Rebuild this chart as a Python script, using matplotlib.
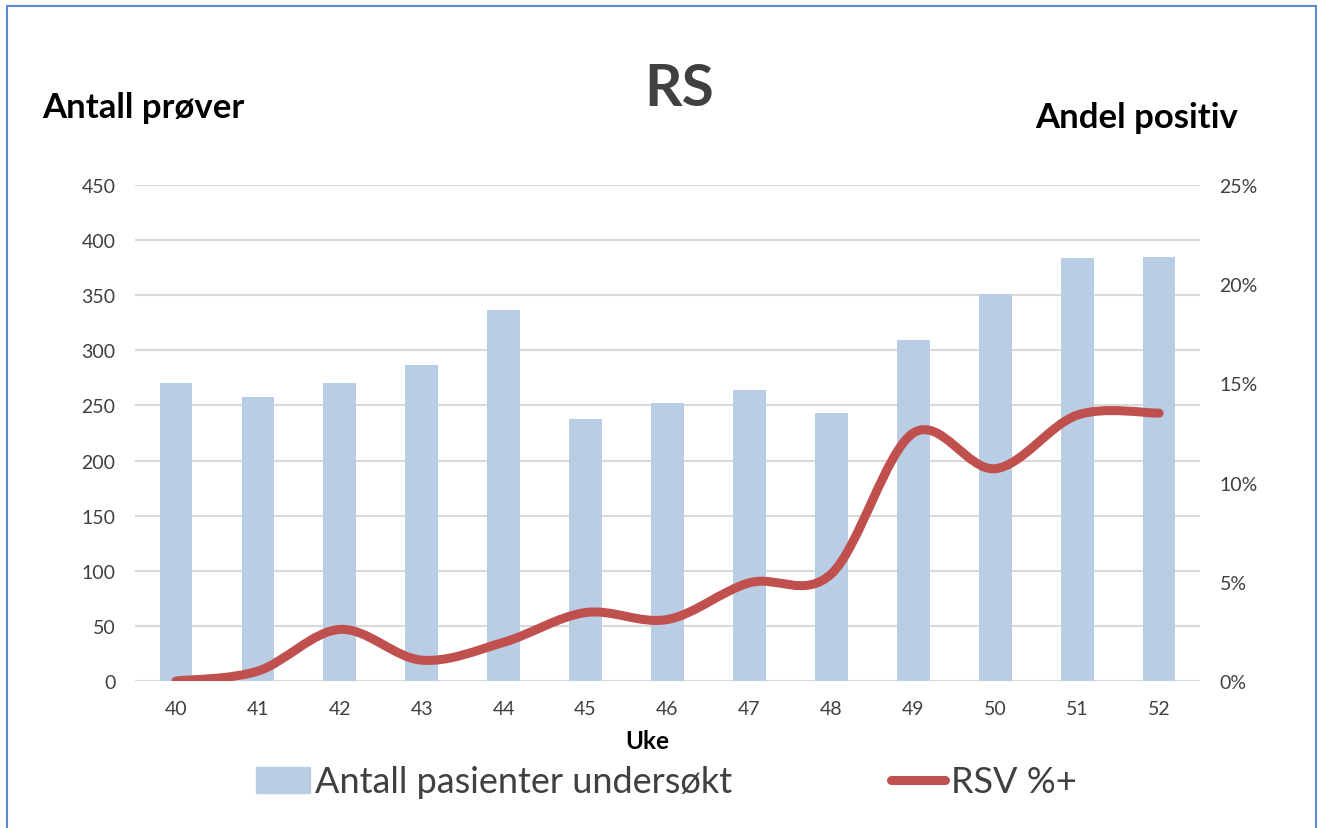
import matplotlib.pyplot as plt
from matplotlib.path import Path
from matplotlib.patches import PathPatch, Rectangle
from matplotlib.lines import Line2D
from matplotlib.ticker import FuncFormatter

plt.rcParams['font.family'] = ['Lato', 'DejaVu Sans']

# Data
weeks = ["40", "41", "42", "43", "44", "45", "46", "47", "48", "49", "50", "51", "52"]
patients = [270, 258, 270, 287, 337, 238, 252, 264, 243, 309, 351, 384, 385]
rsv_share = [0.0, 0.005, 0.026, 0.0105, 0.0195, 0.0345, 0.031, 0.0495, 0.054, 0.125, 0.107, 0.134, 0.135]

BAR_COLOR = "#B9CDE5"
LINE_COLOR = "#C0504D"
TEXT_COLOR = "#404040"
GRID_COLOR = "#D9D9D9"

fig = plt.figure(figsize=(13.23, 8.29), dpi=100)
ax = fig.add_axes([135 / 1323, 1 - 682 / 829, 1065 / 1323, 496 / 829])
ax2 = ax.twinx()

x = list(range(len(weeks)))
ax.bar(x, patients, width=0.4, color=BAR_COLOR, zorder=2)
ax.set_xlim(-0.5, len(weeks) - 0.5)
ax.set_ylim(0, 450)
ax.set_yticks(range(0, 451, 50))
ax.set_xticks(x)
ax.set_xticklabels(weeks)
ax.yaxis.grid(True, color=GRID_COLOR, linewidth=1.5, zorder=0)
ax.set_axisbelow(True)

# smoothed line (Excel-style bezier through the points)
verts = [(x[0], rsv_share[0])]
codes = [Path.MOVETO]
n = len(x)
for i in range(n - 1):
    p0 = (x[max(i - 1, 0)], rsv_share[max(i - 1, 0)])
    p1 = (x[i], rsv_share[i])
    p2 = (x[i + 1], rsv_share[i + 1])
    p3 = (x[min(i + 2, n - 1)], rsv_share[min(i + 2, n - 1)])
    c1 = (p1[0] + (p2[0] - p0[0]) / 6, p1[1] + (p2[1] - p0[1]) / 6)
    c2 = (p2[0] - (p3[0] - p1[0]) / 6, p2[1] - (p3[1] - p1[1]) / 6)
    verts += [c1, c2, p2]
    codes += [Path.CURVE4] * 3
ax2.add_patch(PathPatch(Path(verts, codes), facecolor="none", edgecolor=LINE_COLOR,
                        linewidth=6.5, capstyle="round", joinstyle="round", zorder=3))
ax2.set_ylim(0, 0.25)
ax2.set_yticks([0, 0.05, 0.10, 0.15, 0.20, 0.25])
ax2.yaxis.set_major_formatter(FuncFormatter(lambda v, _: f"{v * 100:.0f}%"))

for a in (ax, ax2):
    for side in ("top", "left", "right", "bottom"):
        a.spines[side].set_visible(False)
    a.tick_params(length=0, labelsize=14, labelcolor=TEXT_COLOR, pad=14)
ax.axhline(0, color=GRID_COLOR, linewidth=2, zorder=1)

fig.text(679 / 1323, 1 - 90 / 829, "RS", fontsize=42, fontweight="bold",
         color=TEXT_COLOR, ha="center", va="center")
fig.text(42 / 1323, 1 - 108 / 829, "Antall prøver", fontsize=25, fontweight="bold",
         color="black", ha="left", va="center")
fig.text(1035 / 1323, 1 - 118 / 829, "Andel positiv", fontsize=25, fontweight="bold",
         color="black", ha="left", va="center")
fig.text(647 / 1323, 1 - 742 / 829, "Uke", fontsize=17.5, fontweight="bold",
         color="black", ha="center", va="center")

handles = [Rectangle((0, 0), 1, 1, color=BAR_COLOR),
           Line2D([0], [0], color=LINE_COLOR, linewidth=6.5, solid_capstyle="round")]
leg = fig.legend(handles, ["Antall pasienter undersøkt", "RSV %+"], loc="center",
                 bbox_to_anchor=(666 / 1323, 1 - 783 / 829), ncol=2, frameon=False,
                 fontsize=26, handlelength=1.5, handletextpad=0.15, columnspacing=4.4)
for t in leg.get_texts():
    t.set_color(TEXT_COLOR)

# outer frame
fig.patches.append(Rectangle((7 / 1323, -0.02), 1309 / 1323, 1 - 7 / 829 + 0.02,
                             transform=fig.transFigure, fill=False,
                             edgecolor="#5B8CC8", linewidth=1.5))

fig.savefig("out.png", dpi=100)
